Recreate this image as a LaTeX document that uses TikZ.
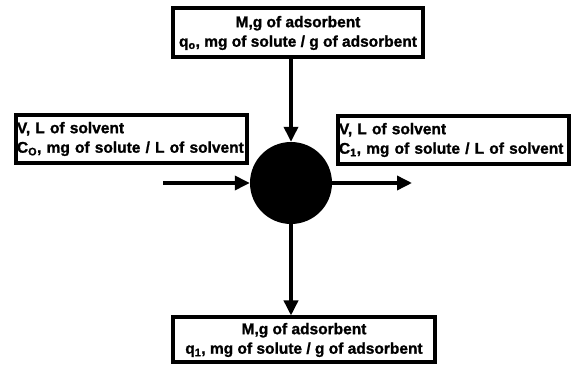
\documentclass[tikz,border=0pt]{standalone}
\usepackage{fontspec}
\setmainfont{Liberation Sans}[BoldFeatures={FakeBold=1.2}]
\usetikzlibrary{arrows.meta}
\begin{document}
\begin{tikzpicture}[x=1pt,y=-1pt,
  lbl/.style={draw=black, line width=4pt, inner sep=0pt, font=\bfseries\fontsize{15.5}{19.5}\selectfont, fill=white},
  conn/.style={line width=3.5pt, -{Triangle[length=15pt,width=14pt]}}]
\useasboundingbox (0,0) rectangle (571,366);
\node[lbl, minimum width=250pt, minimum height=49pt, align=center] (top) at (298,33)
  {M,g of adsorbent\\q\textsubscript{o}, mg of solute / g of adsorbent};
\node[lbl, minimum width=231pt, minimum height=48pt, align=left, text width=228pt] (left) at (131,139)
  {V, L of solvent\\C\textsubscript{O}, mg of solute / L of solvent};
\node[lbl, minimum width=231pt, minimum height=48pt, align=left, text width=228pt] (right) at (453,140)
  {V, L of solvent\\C\textsubscript{1}, mg of solute / L of solvent};
\node[lbl, minimum width=262pt, minimum height=45pt, align=center] (bot) at (304,340)
  {M,g of adsorbent\\q\textsubscript{1}, mg of solute / g of adsorbent};
\node[circle, fill=black, minimum size=82pt, inner sep=0pt] (c) at (291,183) {};
\coordinate (lin) at (163,183);
\coordinate (rout) at (412,183);
\draw[conn] (top.south -| c.north) -- (c.north);
\draw[conn] (lin) -- (c.west);
\draw[conn] (c.east) -- (rout);
\draw[conn] (c.south) -- (bot.north -| c.south);
\end{tikzpicture}
\end{document}
